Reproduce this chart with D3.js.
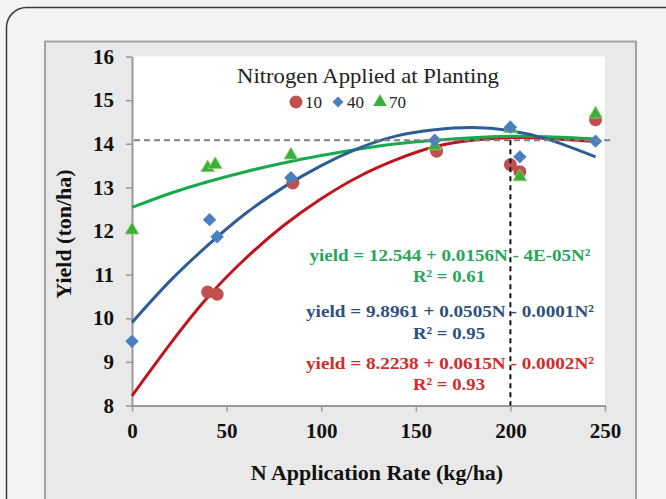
<!DOCTYPE html>
<html>
<head>
<meta charset="utf-8">
<title>Yield vs N Application Rate</title>
<style>
  body { margin: 0; background: #f3f4f6; }
  svg { display: block; font-family: "Liberation Serif", "Times New Roman", serif; }
</style>
</head>
<body>
<div id="chart"></div>
<script src="https://cdnjs.cloudflare.com/ajax/libs/d3/7.8.5/d3.min.js"></script>
<script>
// axis ticks
const xTicks = [0, 50, 100, 150, 200, 250];
const yTicks = [8, 9, 10, 11, 12, 13, 14, 15, 16];

// observed points [N rate, yield], one list per planting rate
const points10 = [[40, 10.6], [45, 10.55], [85, 13.1], [161, 13.83], [200, 13.52], [205, 13.36], [245, 14.55]];
const points40 = [[0, 9.47], [41, 12.26], [45, 11.87], [84, 13.22], [160, 14.08], [200, 14.38], [205, 13.7], [245, 14.06]];
const points70 = [[0, 12.02], [40, 13.45], [44, 13.52], [84, 13.74], [160, 13.95], [200, 14.35], [205, 13.24], [245, 14.68]];

// trend lines
const fitN  = [0, 20, 40, 60, 80, 100, 120, 140, 160, 180, 200, 220, 245];
const fit10 = [8.22, 9.4, 10.48, 11.37, 12.12, 12.74, 13.25, 13.64, 13.93, 14.08, 14.14, 14.12, 14.05];
const fit40 = [9.9, 10.85, 11.67, 12.4, 13.0, 13.5, 13.9, 14.18, 14.32, 14.37, 14.3, 14.1, 13.7];
const fit70 = [12.54, 12.86, 13.13, 13.36, 13.56, 13.73, 13.88, 14.0, 14.08, 14.14, 14.17, 14.16, 14.11];

const legendLabels = ["10", "40", "70"];
const equations = ["yield = 12.544 + 0.0156N - 4E-05N²", "yield = 9.8961 + 0.0505N - 0.0001N²", "yield = 8.2238 + 0.0615N - 0.0002N²"];
const rSquared = ["R² = 0.61", "R² = 0.95", "R² = 0.93"];
const plateau = 14.08, optimumN = 200;

const W = 666, H = 499;
const plot = {left: 132, right: 605, top: 56.5, bottom: 405.5};

const svg = d3.select('#chart').append('svg')
  .attr('width', W).attr('height', H);

// card + chart area backgrounds
svg.append('rect').attr('x', 6.5).attr('y', 7.5).attr('width', 700).attr('height', 560)
  .attr('rx', 20).attr('fill', '#f3f4f6').attr('stroke', '#3a3a3a').attr('stroke-width', 1.5);
svg.append('rect').attr('x', 45).attr('y', 41.5).attr('width', 591).attr('height', 480)
  .attr('fill', '#e9e9e9').attr('stroke', '#a3a3a3').attr('stroke-width', 2);
svg.append('rect').attr('x', plot.left).attr('y', plot.top)
  .attr('width', plot.right - plot.left).attr('height', plot.bottom - plot.top)
  .attr('fill', '#fff');

const x = d3.scaleLinear().domain([0, 250]).range([plot.left, plot.right]);
const y = d3.scaleLinear().domain([8, 16]).range([plot.bottom, plot.top]);

// axes
const xAxis = svg.append('g')
  .attr('transform', 'translate(0,' + plot.bottom + ')')
  .call(d3.axisBottom(x).tickValues(xTicks).tickSize(6).tickPadding(12).tickSizeOuter(0));
const yAxis = svg.append('g')
  .attr('transform', 'translate(' + plot.left + ',0)')
  .call(d3.axisLeft(y).tickValues(yTicks).tickSize(6).tickPadding(12).tickSizeOuter(0));
[xAxis, yAxis].forEach(g => {
  g.select('.domain').attr('stroke', '#999').attr('stroke-width', 2);
  g.selectAll('.tick line').attr('stroke', '#999').attr('stroke-width', 1.5);
  g.selectAll('.tick text').attr('fill', '#111')
    .style('font-family', '"Liberation Serif", serif')
    .style('font-size', '21px').style('font-weight', 'bold');
});

// axis titles
svg.append('text')
  .attr('x', 377).attr('y', 480)
  .attr('text-anchor', 'middle')
  .style('font-size', '22px').style('font-weight', 'bold').attr('fill', '#111')
  .text('N Application Rate (kg/ha)');
svg.append('text')
  .attr('transform', 'translate(71,234) rotate(-90)')
  .attr('text-anchor', 'middle')
  .style('font-size', '22px').style('font-weight', 'bold').attr('fill', '#111')
  .text('Yield (ton/ha)');

// trend lines
const line = d3.line().x(d => x(d[0])).y(d => y(d[1])).curve(d3.curveNatural);
const fits = [
  {vals: fit10, color: '#c0141c'},
  {vals: fit70, color: '#19a84a'},
  {vals: fit40, color: '#2e5d94'}
];
fits.forEach(f => {
  svg.append('path')
    .datum(fitN.map((n, i) => [n, f.vals[i]]))
    .attr('d', line)
    .attr('fill', 'none').attr('stroke', f.color).attr('stroke-width', 3);
});

// points: red circles, green triangles, blue diamonds
svg.append('g').selectAll('circle').data(points10).enter().append('circle')
  .attr('cx', d => x(d[0])).attr('cy', d => y(d[1])).attr('r', 6.5)
  .attr('fill', '#c0504d');
const tri = d3.symbol().type(d3.symbolTriangle).size(80);
svg.append('g').selectAll('path').data(points70).enter().append('path')
  .attr('d', tri)
  .attr('transform', d => 'translate(' + x(d[0]) + ',' + y(d[1]) + ')')
  .attr('fill', '#3cae3c').attr('stroke', '#8fd36a').attr('stroke-width', 0.8);
const dia = d3.symbol().type(d3.symbolSquare).size(90);
svg.append('g').selectAll('path').data(points40).enter().append('path')
  .attr('d', dia)
  .attr('transform', d => 'translate(' + x(d[0]) + ',' + y(d[1]) + ') rotate(45)')
  .attr('fill', '#4a7fc1');

// legend
svg.append('text')
  .attr('x', 368).attr('y', 83)
  .attr('text-anchor', 'middle')
  .attr('textLength', 262).attr('lengthAdjust', 'spacingAndGlyphs')
  .style('font-size', '22px').attr('fill', '#222')
  .text('Nitrogen Applied at Planting');
const legendX = [296, 338, 380];
const legendColors = ['#c0504d', '#4a7fc1', '#3cae3c'];
const lg = svg.append('g');
lg.append('circle').attr('cx', legendX[0]).attr('cy', 102).attr('r', 6.5).attr('fill', legendColors[0]);
lg.append('path').attr('d', d3.symbol().type(d3.symbolSquare).size(60)).attr('transform', 'translate(' + legendX[1] + ',102) rotate(45)').attr('fill', legendColors[1]);
lg.append('path').attr('d', tri).attr('transform', 'translate(' + legendX[2] + ',102)').attr('fill', legendColors[2]);
legendLabels.forEach((t, i) => {
  lg.append('text').attr('x', legendX[i] + 9).attr('y', 108)
    .style('font-size', '17px').attr('fill', '#222').text(t);
});

// equations
const eqColors = ['#27a558', '#2f4f7f', '#d42a2a'];
const eqY = [261, 317, 369];
const rY = [282, 339, 390];
equations.forEach((t, i) => {
  svg.append('text').attr('x', 450).attr('y', eqY[i])
    .attr('text-anchor', 'middle')
    .attr('textLength', i === 0 ? 281 : 288).attr('lengthAdjust', 'spacingAndGlyphs')
    .style('font-size', '17px').style('font-weight', 'bold').attr('fill', eqColors[i])
    .text(t);
  svg.append('text').attr('x', 449).attr('y', rY[i])
    .attr('text-anchor', 'middle')
    .attr('textLength', 72).attr('lengthAdjust', 'spacingAndGlyphs')
    .style('font-size', '17px').style('font-weight', 'bold').attr('fill', eqColors[i])
    .text(rSquared[i]);
});

// plateau and optimum dashed lines
svg.append('line')
  .attr('x1', x(0) + 2).attr('x2', x(254))
  .attr('y1', y(plateau)).attr('y2', y(plateau))
  .attr('stroke', '#7f7f7f').attr('stroke-width', 2).attr('stroke-dasharray', '6,4');
svg.append('line')
  .attr('x1', x(optimumN)).attr('x2', x(optimumN))
  .attr('y1', y(plateau)).attr('y2', y(8))
  .attr('stroke', '#111').attr('stroke-width', 2).attr('stroke-dasharray', '5,4');
</script>
</body>
</html>
